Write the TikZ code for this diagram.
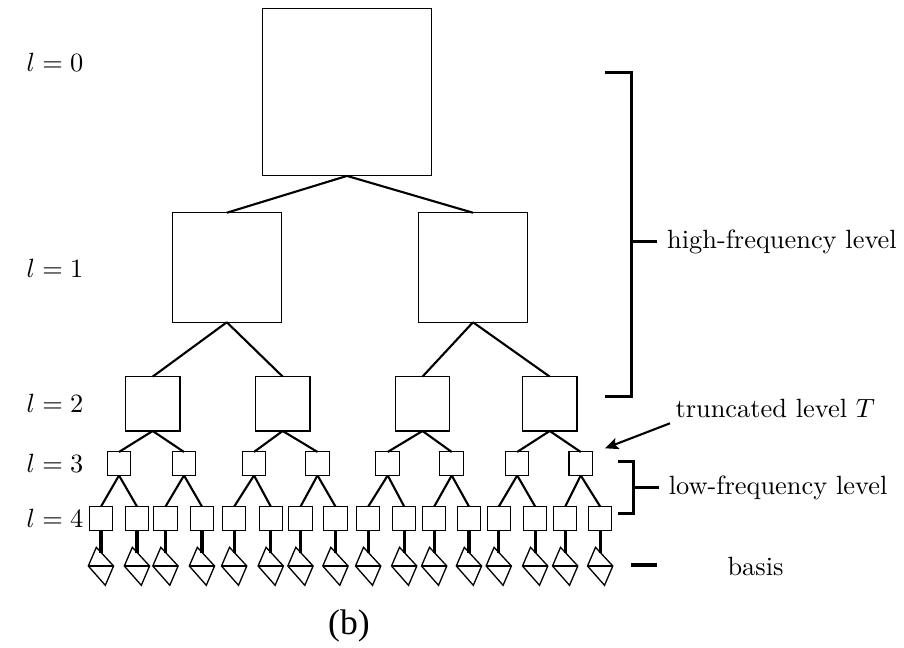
\documentclass[tikz,border=0pt]{standalone}
\usepackage{fontspec}
\newfontfamily\capfont{Liberation Serif}
\usetikzlibrary{arrows.meta}
\begin{document}
\begin{tikzpicture}[x=0.379pt,y=-0.379pt,
  box/.style={draw,line width=0.4pt,inner sep=0pt,outer sep=0pt,rectangle},
  edge/.style={line width=0.8pt},
  stem/.style={line width=1.2pt},
  brack/.style={line width=1.2pt},
  basisshape/.style={line width=0.5pt,line join=miter},
  lab/.style={anchor=west,inner sep=0pt},
  arr/.style={line width=0.8pt,-{Stealth[length=5pt,width=4.4pt,inset=1pt]}}]
\useasboundingbox (0,0) rectangle (904,648);

% level 0
\node[box,minimum width=64.2pt,minimum height=63.6pt] (a) at (347,92) {};
% level 1
\node[box,minimum size=41.5pt] (b1) at (226.8,267.5) {};
\node[box,minimum size=41.5pt] (b2) at (473,267.5) {};
% level 2
\foreach \x [count=\i] in {152.7,282.7,422.5,549.7}
  \node[box,minimum width=20.7pt,minimum height=20.6pt] (c\i) at (\x,403.8) {};
% level 3
\foreach \x [count=\i] in {119,184,254,317.5,387.7,451.7,517.2,580.7}
  \node[box,minimum size=8.9pt] (d\i) at (\x,463.7) {};
% level 4
\foreach \x [count=\i] in {101,137,165.5,202,234.2,270.8,300.5,335.5,368.2,404.2,434.2,469,498.8,535.2,565.2,600.2}
  \node[box,minimum size=8.9pt] (e\i) at (\x,518.3) {};

% connectors
\draw[edge] (a.south) -- (b1.north);
\draw[edge] (a.south) -- (b2.north);
\draw[edge] (b1.south) -- (c1.north);
\draw[edge] (b1.south) -- (c2.north);
\draw[edge] (b2.south) -- (c3.north);
\draw[edge] (b2.south) -- (c4.north);
\foreach \k in {1,...,4}{
  \pgfmathtruncatemacro\m{2*\k-1}
  \pgfmathtruncatemacro\n{2*\k}
  \draw[edge] (c\k.south) -- (d\m.north);
  \draw[edge] (c\k.south) -- (d\n.north);
}
\foreach \k in {1,...,8}{
  \pgfmathtruncatemacro\m{2*\k-1}
  \pgfmathtruncatemacro\n{2*\k}
  \draw[edge] (d\k.south) -- (e\m.north);
  \draw[edge] (d\k.south) -- (e\n.north);
}

% basis shapes
\foreach \x [count=\i] in {101,137,165.5,202,234.2,270.8,300.5,335.5,368.2,404.2,434.2,469,498.8,535.2,565.2,600.2}{
  \coordinate (p\i) at (\x,566);
  \draw[stem] (e\i.south) -- ([shift={(0,-13.4)}]p\i);
  \draw[basisshape] ([shift={(-4.7,-18.7)}]p\i) -- ([shift={(-12.7,0)}]p\i)
     -- ([shift={(4.3,19.3)}]p\i) -- ([shift={(12.6,0)}]p\i) -- cycle;
  \draw[edge] ([shift={(-12.7,0)}]p\i) -- ([shift={(12.6,0)}]p\i);
}

% level labels
\node[lab] (l0) at (26,62) {$l=0$};
\node[lab] (l1) at (26,268) {$l=1$};
\node[lab] (l2) at (26,403) {$l=2$};
\node[lab] (l3) at (26,463) {$l=3$};
\node[lab] (l4) at (26,518) {$l=4$};

% high-frequency bracket
\coordinate (h1) at (605,72.7);
\coordinate (h2) at (631.7,72.7);
\coordinate (h3) at (631.7,396.7);
\coordinate (h4) at (605,396.7);
\coordinate (hm) at (631.7,241.7);
\coordinate (ht) at (656.7,241.7);
\draw[brack] (h1) -- (h2) -- (h3) -- (h4);
\draw[brack] (hm) -- (ht);
\node[lab] (hf) at (666.7,241.7) {high-frequency level};

% truncated level
\node[lab] (tl) at (675,408) {truncated level $T$};
\coordinate (ts) at (670,423.3);
\coordinate (tt) at (605,448.3);
\draw[arr] (ts) -- (tt);

% low-frequency bracket
\coordinate (g1) at (618.3,461.7);
\coordinate (g2) at (633.3,461.7);
\coordinate (g3) at (633.3,513.3);
\coordinate (g4) at (618.3,513.3);
\coordinate (gm) at (633.3,487.7);
\coordinate (gt) at (659,487.7);
\draw[brack] (g1) -- (g2) -- (g3) -- (g4);
\draw[brack] (gm) -- (gt);
\node[lab] (lf) at (668.3,487.7) {low-frequency level};

% basis
\coordinate (bs) at (630.7,565);
\coordinate (be) at (656.7,565);
\draw[brack] (bs) -- (be);
\node (bl) at (755.5,566) {basis};

% caption
\node (cap) at (349,626) {\capfont\fontsize{13.5pt}{15pt}\selectfont (b)};
\end{tikzpicture}
\end{document}
